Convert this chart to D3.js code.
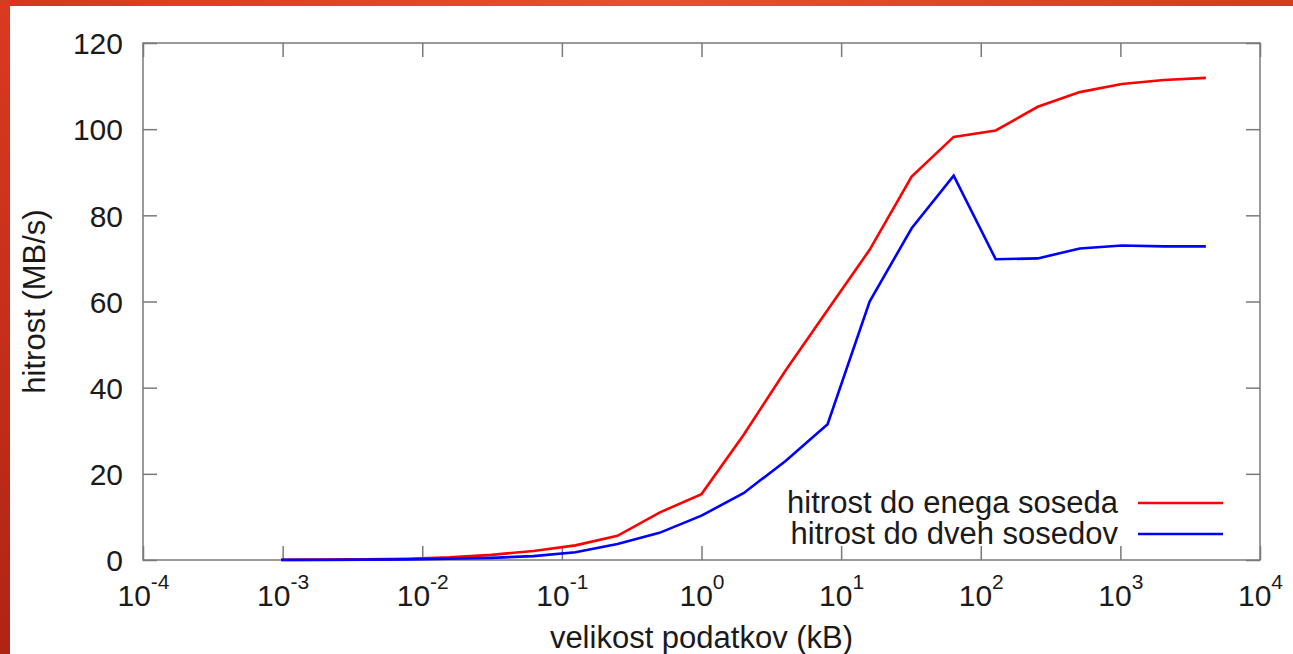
<!DOCTYPE html>
<html>
<head>
<meta charset="utf-8">
<script src="https://cdn.jsdelivr.net/npm/d3@7"></script>
<style>
  html, body { margin: 0; padding: 0; background: #fff; }
  svg { display: block; }
  text { font-family: "Liberation Sans", Arial, Helvetica, sans-serif; fill: #1a1a1a; }
</style>
</head>
<body>
<svg id="chart" width="1293" height="654"></svg>
<script>
// ---- data ----
const sizesKB = [0.0009765625, 0.001953125, 0.00390625, 0.0078125, 0.015625, 0.03125,
  0.0625, 0.125, 0.25, 0.5, 1, 2, 4, 8, 16, 32, 64, 128, 256, 512, 1024, 2048, 4096];
const seriesNames = ["hitrost do enega soseda", "hitrost do dveh sosedov"];
const oneNeighbour = [0.04, 0.08, 0.15, 0.3, 0.6, 1.2, 2.1, 3.4, 5.6, 11.0, 15.3,
  29.0, 44.0, 58.0, 72.0, 89.0, 98.2, 99.7, 105.2, 108.6, 110.5, 111.4, 111.9];
const twoNeighbours = [0.02, 0.04, 0.08, 0.15, 0.3, 0.5, 0.9, 1.8, 3.7, 6.3, 10.3,
  15.5, 23.0, 31.5, 60.0, 77.0, 89.2, 69.8, 70.0, 72.3, 73.0, 72.8, 72.8];
const xTickExponents = [-4, -3, -2, -1, 0, 1, 2, 3, 4];
const yTicks = [0, 20, 40, 60, 80, 100, 120];
const xLabel = "velikost podatkov (kB)";
const yLabel = "hitrost (MB/s)";
const colors = ["#ff0000", "#0000ff"];

// ---- layout ----
const svg = d3.select("#chart");
const W = 1293, H = 654;
const m = { left: 143, top: 43, right: 1260, bottom: 560 };
const axisColor = "#7a7a7a";

// background frame (red bands top and left)
const defs = svg.append("defs");
const gTop = defs.append("linearGradient").attr("id", "gtop").attr("x1", "0").attr("x2", "1").attr("y1", "0").attr("y2", "0");
gTop.append("stop").attr("offset", "0").attr("stop-color", "#d93621");
gTop.append("stop").attr("offset", "0.5").attr("stop-color", "#ea4e38");
gTop.append("stop").attr("offset", "1").attr("stop-color", "#d23c22");
const gLeft = defs.append("linearGradient").attr("id", "gleft").attr("x1", "0").attr("x2", "0").attr("y1", "0").attr("y2", "1");
gLeft.append("stop").attr("offset", "0").attr("stop-color", "#da3a22");
gLeft.append("stop").attr("offset", "1").attr("stop-color", "#b02414");

svg.append("rect").attr("x", 0).attr("y", 0).attr("width", W).attr("height", H).attr("fill", "#fff");
svg.append("rect").attr("x", 0).attr("y", 0).attr("width", W).attr("height", 6).attr("fill", "url(#gtop)");
svg.append("rect").attr("x", 0).attr("y", 0).attr("width", 10).attr("height", H).attr("fill", "url(#gleft)");

// ---- scales ----
const x = d3.scaleLog().domain([1e-4, 1e4]).range([m.left, m.right]);
const y = d3.scaleLinear().domain([0, 120]).range([m.bottom, m.top]);
const xTickVals = xTickExponents.map(e => Math.pow(10, e));

// ---- axes ----
const tickLen = 14;
function styleAxis(g) {
  g.select(".domain").remove();
  g.selectAll(".tick line").attr("stroke", axisColor).attr("stroke-width", 1.5);
}

const xb = svg.append("g").attr("transform", `translate(0,${m.bottom})`)
  .call(d3.axisBottom(x).tickValues(xTickVals).tickSizeInner(-tickLen).tickSizeOuter(0).tickFormat(() => "10"));
styleAxis(xb);
xb.selectAll(".tick text")
  .attr("y", 46).attr("dy", null)
  .attr("font-size", 30).attr("fill", "#1a1a1a")
  .style("font-family", '"Liberation Sans", Arial, sans-serif')
  .each(function(d, i) {
    d3.select(this).append("tspan")
      .attr("dy", -17).attr("font-size", 21)
      .text(xTickExponents[i]);
  });

const xt = svg.append("g").attr("transform", `translate(0,${m.top})`)
  .call(d3.axisTop(x).tickValues(xTickVals).tickSizeInner(-tickLen).tickSizeOuter(0).tickFormat(""));
styleAxis(xt);

const yl = svg.append("g").attr("transform", `translate(${m.left},0)`)
  .call(d3.axisLeft(y).tickValues(yTicks).tickSizeInner(-tickLen).tickSizeOuter(0).tickFormat(d3.format("d")));
styleAxis(yl);
yl.selectAll(".tick text")
  .attr("x", -20).attr("dy", "0.36em")
  .attr("font-size", 30).attr("fill", "#1a1a1a")
  .style("font-family", '"Liberation Sans", Arial, sans-serif');

const yr = svg.append("g").attr("transform", `translate(${m.right},0)`)
  .call(d3.axisRight(y).tickValues(yTicks).tickSizeInner(-tickLen).tickSizeOuter(0).tickFormat(""));
styleAxis(yr);

// border
svg.append("rect")
  .attr("x", m.left).attr("y", m.top)
  .attr("width", m.right - m.left).attr("height", m.bottom - m.top)
  .attr("fill", "none").attr("stroke", axisColor).attr("stroke-width", 1.5);

// ---- lines ----
const line = d3.line().x((d, i) => x(sizesKB[i])).y(d => y(d));
[oneNeighbour, twoNeighbours].forEach((vals, k) => {
  svg.append("path")
    .datum(vals)
    .attr("d", line)
    .attr("fill", "none")
    .attr("stroke", colors[k])
    .attr("stroke-width", 2.6)
    .attr("stroke-linejoin", "miter");
});

// ---- legend ----
const legY = [503, 534];
seriesNames.forEach((name, k) => {
  svg.append("text")
    .attr("x", 1118).attr("y", legY[k] + 10)
    .attr("text-anchor", "end")
    .attr("font-size", 31)
    .text(name);
  svg.append("line")
    .attr("x1", 1138).attr("x2", 1223)
    .attr("y1", legY[k]).attr("y2", legY[k])
    .attr("stroke", colors[k]).attr("stroke-width", 2.6);
});

// ---- axis labels ----
svg.append("text")
  .attr("x", (m.left + m.right) / 2).attr("y", 648)
  .attr("text-anchor", "middle").attr("font-size", 31)
  .text(xLabel);

svg.append("text")
  .attr("transform", `translate(45,${(m.top + m.bottom) / 2}) rotate(-90)`)
  .attr("text-anchor", "middle").attr("font-size", 31)
  .text(yLabel);
</script>
</body>
</html>
